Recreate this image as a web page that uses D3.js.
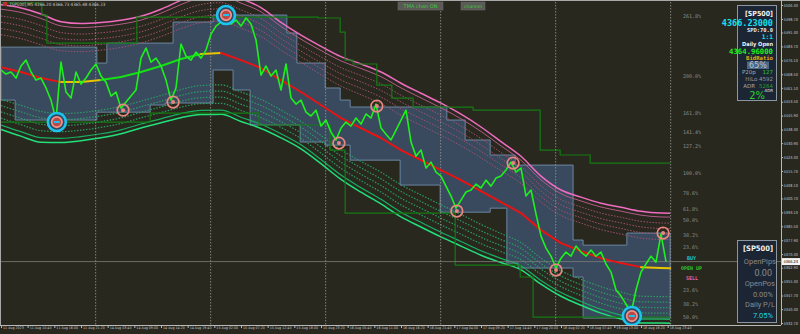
<!DOCTYPE html>
<html>
<head>
<meta charset="utf-8">
<script src="https://cdnjs.cloudflare.com/ajax/libs/d3/7.8.5/d3.min.js"></script>
<style>
body{margin:0;background:#29281f;overflow:hidden}
svg{display:block}
</style>
</head>
<body>
<div id="chart"></div>
<script>
// time axis, one label every 64 bars (M5)
var timeLabels=["11 Aug 2023","11 Aug 10:40","11 Aug 16:00","11 Aug 21:20","14 Aug 03:40","14 Aug 09:00","14 Aug 14:20","14 Aug 19:40","15 Aug 02:00","15 Aug 07:20","15 Aug 12:40","15 Aug 18:00","15 Aug 23:20","16 Aug 05:40","16 Aug 11:00","16 Aug 16:20","16 Aug 21:40","17 Aug 04:00","17 Aug 09:20","17 Aug 14:40","17 Aug 20:00","18 Aug 02:20","18 Aug 07:40","18 Aug 13:00","18 Aug 18:20","18 Aug 23:40"];
var daySepBars=[226,502,778,1054,1330,1606];

var priceTicks=[4506.30,4498.70,4491.30,4483.70,4476.10,4468.50,4461.10,4453.50,4445.90,4438.30,4430.90,4423.30,4415.70,4408.10,4400.70,4393.10,4385.50,4377.90,4370.30,4362.90,4355.30,4347.70,4340.30,4332.70];

// close, sampled every 12 bars
var priceStep=12;
var price=[
4470.8,4468.6,4469.7,4466.4,4473.0,4476.2,4469.7,4465.3,4466.4,4461.0,
4454.4,4443.5,4475.1,4458.8,4455.5,4469.7,4463.1,4466.4,4470.8,4474.1,
4467.5,4464.2,4456.6,4458.8,4450.0,4453.3,4456.6,4459.9,4477.3,4482.8,
4475.1,4477.3,4473.0,4465.3,4454.4,4461.0,4485.0,4478.4,4476.2,4480.6,
4477.3,4481.7,4490.4,4494.8,4497.0,4500.3,4495.9,4498.1,4494.8,4499.2,
4495.9,4487.2,4468.0,4473.0,4467.5,4470.8,4459.9,4474.1,4455.5,4452.2,
4454.4,4447.8,4445.7,4448.9,4440.2,4443.5,4436.9,4432.6,4439.1,4442.4,
4440.2,4444.6,4441.3,4446.8,4444.6,4452.2,4439.1,4435.8,4432.6,4438.0,
4443.5,4448.9,4431.5,4423.8,4427.1,4417.3,4420.5,4415.1,4412.9,4407.4,
4402.0,4395.4,4399.8,4404.2,4405.3,4408.5,4406.4,4410.7,4407.4,4411.8,
4412.9,4416.2,4420.5,4415.1,4417.3,4402.0,4405.3,4392.2,4380.1,4373.6,
4369.2,4362.7,4368.1,4371.4,4369.2,4374.7,4371.4,4369.2,4372.5,4369.2,
4371.4,4364.9,4360.5,4350.7,4347.4,4343.0,4337.6,4350.7,4360.5,4364.9,
4369.2,4365.9,4381.2,4366.2];

// TMA centre line and band half width, every 48 bars
var tmaStep=48;
var tmaMid=[4472.4,4469.7,4466.4,4464.2,4464.2,4465.3,4467.0,4469.7,4473.0,4476.8,
4479.5,4480.1,4476.2,4471.9,4465.3,4458.8,4451.7,4444.6,4439.1,4433.7,
4427.1,4421.6,4416.2,4410.7,4404.7,4398.7,4392.7,4383.4,4376.3,4371.9,
4368.1,4365.4,4363.2,4362.7,4362.6];
var tmaWidth=[34,35,35,33,32,31.5,31,30.5,31,32,
33,33.5,33.5,33,31.5,31,32,33.5,35,36,
36.5,36.5,36.5,36,35,33,31,29.5,29,29.5,
30,30.5,30.5,30,30];
var tmaLevels=[1,0.93,0.82,0.72,0.62,0.52];

// higher timeframe box channel
var boxBars=[0,34,230,254,358,394,413,509,557,598,686,710,718,778,814,838,958,1054,1070,1114,1174,1214,1234,1241,1373,1397,1502,1606];
var boxTop=[4483.3,4483.3,4474.6,4485.5,4485.5,4485.5,4497.0,4500.8,4500.8,4500.8,4491.0,4474.6,4474.6,4461.0,4454.4,4450.6,4450.6,4450.6,4443.5,4432.6,4424.4,4424.4,4418.9,4418.9,4378.0,4375.2,4381.8,4381.8];
var boxBottom=[4454.4,4443.5,4447.8,4447.8,4451.7,4452.8,4452.8,4470.8,4459.9,4440.8,4440.8,4440.8,4431.5,4429.8,4429.8,4421.6,4408.0,4393.2,4393.2,4393.2,4395.4,4365.4,4365.4,4362.7,4357.8,4335.4,4335.4,4335.4];

// step channel (dark green)
var chUpBars=[0,98,110,326,761,814,826,845,902,938,989,1133,1294,1342,1414,1606];
var chUp=[4507.4,4500.8,4485.5,4499.7,4499.2,4491.5,4476.2,4474.1,4462.6,4455.5,4450.6,4448.9,4427.1,4424.4,4420.0,4420.0];
var chLoBars=[0,358,619,790,826,1090,1246,1277,1606];
var chLo=[4442.4,4447.3,4440.8,4427.1,4392.7,4364.3,4357.8,4335.9,4335.9];

// signal circles
var sigBars=[134,293,413,540,811,902,1094,1229,1332,1514,1589];
var sigPrices=[4442.4,4448.9,4453.3,4500.8,4430.9,4451.1,4393.8,4420.0,4361.6,4336.5,4381.8];
var sigKinds=["major","minor","minor","major","minor","minor","minor","minor","minor","major","minor"];

// fibo labels on the right
var fibLabels=["261.8%","200.0%","161.8%","141.4%","127.2%","100.0%","78.6%","61.8%","50.0%","38.2%","23.6%","23.6%","38.2%","50.0%"];
var fibPrices=[4500.3,4467.5,4447.3,4436.9,4429.3,4414.5,4403.6,4394.9,4388.9,4380.7,4374.1,4350.7,4343.0,4335.9];

var lastPrice=4366.23;

function init(){
    var w=800, h=334;
    var svg=d3.select("#chart").append("svg").attr("width",w).attr("height",h);
    svg.append("rect").attr("width",w).attr("height",h).attr("fill","#29281f");

    var x=d3.scaleLinear().domain([0,1872]).range([1,781]);
    var y=d3.scaleLinear().domain([4332.7,4506.3]).range([323,5]);

    svg.append("clipPath").attr("id","plotclip")
        .append("rect").attr("x",1).attr("y",1).attr("width",780).attr("height",324);
    var plot=svg.append("g").attr("clip-path","url(#plotclip)");

    // box channel
    var boxData=boxBars.map(function(b,i){ return {bar:b,top:boxTop[i],bot:boxBottom[i]}; });
    plot.append("path")
        .datum(boxData)
        .attr("d",d3.area().curve(d3.curveStepAfter)
            .x(function(d){return x(d.bar);})
            .y0(function(d){return y(d.bot);})
            .y1(function(d){return y(d.top);}))
        .attr("fill","#394a5e")
        .attr("stroke","#6a86a2")
        .attr("stroke-width",1);

    // tma bands
    var bandLine=d3.line().curve(d3.curveMonotoneX)
        .x(function(d){return x(d.bar);})
        .y(function(d){return y(d.p);});
    function tmaBar(i){ return Math.min(i*tmaStep,1606); }

    tmaLevels.slice().reverse().forEach(function(m,k){
        var lvl=tmaLevels.length-1-k;
        [1,-1].forEach(function(side){
            var pts=tmaMid.map(function(v,i){ return {bar:tmaBar(i),p:v+side*m*tmaWidth[i]}; });
            var col, dash=null, sw=1;
            if(side>0){
                col= lvl==0 ? "#f06cc0" : (lvl==1 ? "#b05a86" : "#a0506e");
                sw= lvl==0 ? 1.5 : 1;
            } else {
                col= lvl==0 ? "#22e07a" : (lvl==1 ? "#18b060" : "#2c9a62");
                sw= lvl==0 ? 1.5 : 1.2;
            }
            if(lvl>1){ dash="1.5,1.5"; }
            plot.append("path").datum(pts)
                .attr("d",bandLine)
                .attr("fill","none")
                .attr("stroke",col)
                .attr("stroke-width",sw)
                .attr("stroke-dasharray",dash);
        });
    });

    // step channel
    var stepLine=d3.line().curve(d3.curveStepAfter)
        .x(function(d){return x(d.bar);})
        .y(function(d){return y(d.p);});
    plot.append("path")
        .datum(chUpBars.map(function(b,i){return {bar:b,p:chUp[i]};}))
        .attr("d",stepLine).attr("fill","none").attr("stroke","#137a13").attr("stroke-width",1.2);
    plot.append("path")
        .datum(chLoBars.map(function(b,i){return {bar:b,p:chLo[i]};}))
        .attr("d",stepLine).attr("fill","none").attr("stroke","#137a13").attr("stroke-width",1.2);

    // day separators
    plot.selectAll("line.sep").data(daySepBars).enter().append("line")
        .attr("class","sep")
        .attr("x1",function(d){return x(d)+0.5;}).attr("x2",function(d){return x(d)+0.5;})
        .attr("y1",2).attr("y2",325)
        .attr("stroke","#9a9a94").attr("stroke-width",0.8)
        .attr("stroke-dasharray","1.5,1.5");

    // bid line
    plot.append("line")
        .attr("x1",1).attr("x2",781)
        .attr("y1",y(lastPrice)).attr("y2",y(lastPrice))
        .attr("stroke","#7c7c78").attr("stroke-width",0.8);

    // tma centre, coloured by slope
    for(var i=0;i<tmaMid.length-1;i++){
        var dp=tmaMid[i+1]-tmaMid[i];
        var c= dp>1.3 ? "#14e014" : (dp<-1.3 ? "#e81414" : "#e8c400");
        plot.append("line")
            .attr("x1",x(tmaBar(i))).attr("y1",y(tmaMid[i]))
            .attr("x2",x(tmaBar(i+1))).attr("y2",y(tmaMid[i+1]))
            .attr("stroke",c).attr("stroke-width",2)
            .attr("stroke-linecap","round");
    }

    // price
    plot.append("path")
        .datum(price)
        .attr("d",d3.line()
            .x(function(d,i){return x(i*priceStep);})
            .y(function(d){return y(d);}))
        .attr("fill","none")
        .attr("stroke","#1ef01e")
        .attr("stroke-width",1.6)
        .attr("stroke-linejoin","round");

    // signals
    sigBars.forEach(function(b,i){
        var cx=x(b), cy=y(sigPrices[i]);
        if(sigKinds[i]=="major"){
            plot.append("circle").attr("cx",cx).attr("cy",cy).attr("r",9)
                .attr("fill","#2a4a60").attr("stroke","#1ec4f0").attr("stroke-width",2.6);
            plot.append("circle").attr("cx",cx).attr("cy",cy).attr("r",5.2)
                .attr("fill","#b84848").attr("stroke","#f0908a").attr("stroke-width",1.8);
            plot.append("rect").attr("x",cx-3).attr("y",cy-1).attr("width",6).attr("height",2).attr("fill","#1ec4f0");
        } else {
            plot.append("circle").attr("cx",cx).attr("cy",cy).attr("r",5.8)
                .attr("fill","none").attr("stroke","#ea8880").attr("stroke-width",1.7);
            plot.append("circle").attr("cx",cx).attr("cy",cy).attr("r",2)
                .attr("fill","#ea8880");
        }
    });

    // fibo labels
    svg.selectAll("text.fib").data(fibLabels).enter().append("text")
        .attr("class","fib")
        .attr("x",683).attr("y",function(d,i){return y(fibPrices[i]);})
        .attr("dy","0.35em")
        .attr("font-family","DejaVu Sans Mono").attr("font-size",5)
        .attr("fill","#8e8e86")
        .text(function(d){return d;});
    [["BUY",687,4368.1,"#1cc6d6"],["OPEN UP",681,4362.7,"#2ec22e"],["SELL",686,4357.2,"#e462aa"]].forEach(function(t){
        svg.append("text").attr("x",t[1]).attr("y",y(t[2])).attr("dy","0.35em")
            .attr("font-family","DejaVu Sans Mono").attr("font-weight","bold").attr("font-size",5)
            .attr("fill",t[3]).text(t[0]);
    });

    // frame lines
    svg.append("line").attr("x1",0).attr("x2",w).attr("y1",0.5).attr("y2",0.5).attr("stroke","#a8a8a8");
    svg.append("line").attr("x1",0.5).attr("x2",0.5).attr("y1",0).attr("y2",325).attr("stroke","#a8a8a8");

    // right axis
    var ay=svg.append("g").attr("transform","translate(781,0)")
        .call(d3.axisRight(y).tickValues(priceTicks).tickFormat(d3.format(".2f")).tickSize(2).tickPadding(0.5));
    ay.select(".domain").attr("stroke","#b8b8b8").attr("d","M0.5,0V325");
    ay.selectAll(".tick line").attr("stroke","#b8b8b8");
    ay.selectAll("text").attr("fill","#c4c4c4").attr("font-size",3.9).attr("font-family","DejaVu Sans Condensed");

    // bottom axis
    var ax=svg.append("g").attr("transform","translate(0,325)")
        .call(d3.axisBottom(x).tickValues(timeLabels.map(function(d,i){return i*64;}))
            .tickFormat(function(d,i){return timeLabels[i];}).tickSize(3).tickPadding(0));
    ax.select(".domain").attr("stroke","#b8b8b8").attr("d","M0,0.5H781");
    ax.selectAll(".tick line").attr("stroke","#b8b8b8");
    ax.selectAll("text").attr("fill","#c4c4c4").attr("font-size",3.6).attr("font-family","DejaVu Sans Condensed")
        .attr("text-anchor","start").attr("dx",1.5).attr("y",1.8);

    // last price label
    svg.append("rect").attr("x",782).attr("y",y(lastPrice)-3.5).attr("width",18).attr("height",7).attr("fill","#f4f4f4");
    svg.append("text").attr("x",783.5).attr("y",y(lastPrice)).attr("dy","0.35em")
        .attr("font-size",3.9).attr("font-family","DejaVu Sans Condensed").attr("fill","#000").text(lastPrice.toFixed(2));

    // header
    svg.append("rect").attr("x",3).attr("y",2).attr("width",4).attr("height",4).attr("fill","#c03030");
    svg.append("text").attr("x",10).attr("y",6).attr("font-size",4.5).attr("font-family","DejaVu Sans Condensed")
        .attr("fill","#c8c8c8").text("[SP500],M5  4366.20 4366.73 4365.48 4366.23");

    // buttons
    svg.append("rect").attr("x",398).attr("y",2).attr("width",45).attr("height",8).attr("fill","#595956").attr("stroke","#6e6e6a").attr("stroke-width",0.5);
    svg.append("text").attr("x",420.5).attr("y",6).attr("dy","0.35em").attr("text-anchor","middle")
        .attr("font-size",5).attr("font-family","DejaVu Sans").attr("fill","#3cc83c").text("TMA chan ON");
    svg.append("rect").attr("x",461).attr("y",2).attr("width",24).attr("height",8).attr("fill","#595956").attr("stroke","#6e6e6a").attr("stroke-width",0.5);
    svg.append("text").attr("x",473).attr("y",6).attr("dy","0.35em").attr("text-anchor","middle")
        .attr("font-size",4.5).attr("font-family","DejaVu Sans").attr("fill","#3cc83c").text("channel");

    // info panels
    function txt(s,tx,ty,size,col,opts){
        opts=opts||{};
        var t=svg.append("text").attr("x",tx).attr("y",ty).attr("dy","0.35em")
            .attr("font-size",size).attr("fill",col)
            .attr("font-family",opts.font||"DejaVu Sans")
            .attr("text-anchor",opts.anchor||"end")
            .text(s);
        if(opts.bold){ t.attr("font-weight","bold"); }
        return t;
    }
    svg.append("rect").attr("x",737.5).attr("y",5.5).attr("width",39).attr("height",95)
        .attr("fill","#1b2533").attr("stroke","#8a96a2").attr("stroke-width",1);
    txt("[SP500]",773,13.5,7,"#f2f2f2",{bold:true,font:"DejaVu Sans Condensed"});
    txt("4366.23000",773,23,8.5,"#12e2f2",{bold:true,font:"DejaVu Sans Mono"});
    txt("SPD:70.0",773,30.5,5.4,"#e8e8e8",{bold:true,font:"DejaVu Sans Mono"});
    txt("1:1",773,37,6.3,"#12e2f2",{bold:true,font:"DejaVu Sans Mono"});
    txt("Daily Open",773,44,5.6,"#f0f0f0",{bold:true,font:"DejaVu Sans Condensed"});
    txt("4364.96000",773,51,7.3,"#1ef01e",{bold:true,font:"DejaVu Sans Mono"});
    txt("BidRatio",773,58,5.6,"#e0b010",{bold:true,font:"DejaVu Sans Mono"});
    svg.append("rect").attr("x",747).attr("y",61.5).attr("width",22).attr("height",7.5).attr("fill","#4a6888");
    txt("65%",758,65.3,8,"#b8c4d0",{anchor:"middle"});
    txt("P20p",742,72,5.5,"#a8a8a8",{anchor:"start"});
    txt("127",773,72,5.5,"#2ec22e");
    txt("HiLo 4592",773,79,5.5,"#9a9a9a");
    txt("ADR",755,86,5.5,"#a8a8a8");
    txt("5264",773,86,5.5,"#2e9a2e");
    txt("2%",765,95,10,"#2ed02e");
    txt("ADR",773,90.5,4,"#e0e0e0");

    svg.append("rect").attr("x",737.5).attr("y",240.5).attr("width",39).attr("height",82)
        .attr("fill","#1b2533").attr("stroke","#8a96a2").attr("stroke-width",1);
    txt("[SP500]",773,248.5,7.5,"#f2f2f2",{bold:true,font:"DejaVu Sans Condensed"});
    txt("OpenPips",776,261,7.5,"#8a8a8a",{font:"Roboto"});
    txt("0.00",772,273,9,"#8a8a8a",{font:"Roboto"});
    txt("OpenPos",775,283.5,7.5,"#8a8a8a",{font:"Roboto"});
    txt("0.00%",773,294,7.5,"#8a8a8a",{font:"Roboto"});
    txt("Daily P/L",775,304.5,7.5,"#8a8a8a",{font:"Roboto"});
    txt("7.05%",773,315,7.5,"#1ed2e2",{font:"Roboto"});
}

window.onload=init;
</script>
</body>
</html>
